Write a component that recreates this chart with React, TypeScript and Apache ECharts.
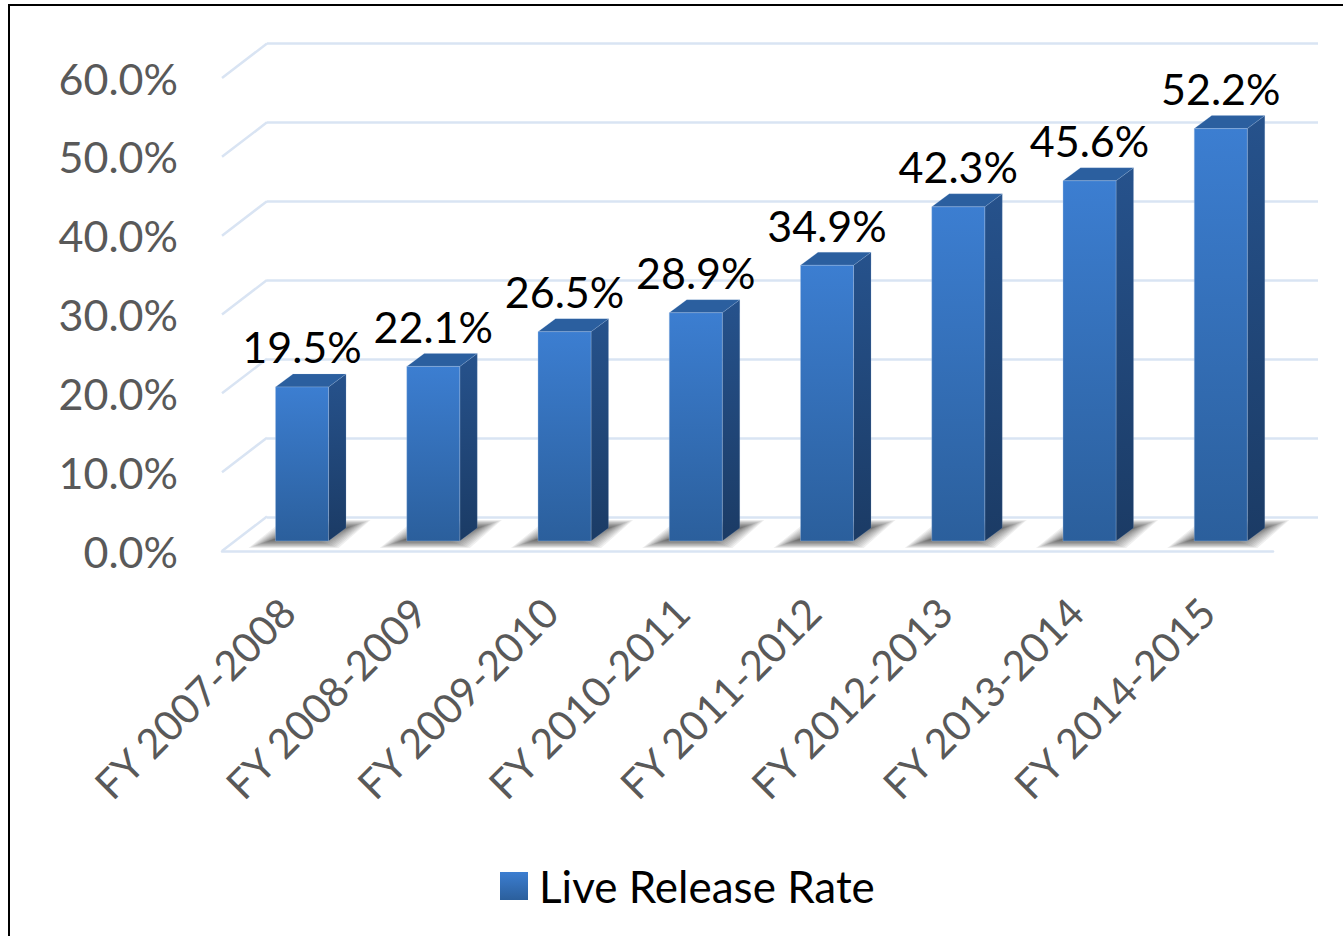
import React, { useEffect, useRef } from "react";
import * as echarts from "echarts";

const categories = ["FY 2007-2008","FY 2008-2009","FY 2009-2010","FY 2010-2011","FY 2011-2012","FY 2012-2013","FY 2013-2014","FY 2014-2015"];
const rates = [19.5,22.1,26.5,28.9,34.9,42.3,45.6,52.2];
const wallTicks = [0,10,20,30,40,50,60];
const seriesName = "Live Release Rate";

const FONT = "Lato";
const GRIDLINE = "#D9E4F3";
const DX = 17.5, DY = -13;

const vgrad = (a: string, b: string) => new echarts.graphic.LinearGradient(0, 0, 0, 1, [{ offset: 0, color: a }, { offset: 1, color: b }]);

function renderBar(params: any, api: any) {
  const i = api.value(0), v = api.value(1);
  const top = api.coord([i, v]);
  const base = api.coord([i, 0]);
  const w = api.size([1, 0])[0] * 0.404;
  const l = top[0] - w / 2, r = top[0] + w / 2, t = top[1], b = base[1];
  const edge = "rgba(170,195,230,0.35)";
  const children: any[] = [];
  // soft floor shadow: nested translucent layers
  for (let k = 0; k < 14; k++) {
    const ix = k * 1.9, iy = k * 0.65;
    children.push({
      type: "polygon", silent: true,
      shape: { points: [
        [l - 27 + ix, b + 7 - iy],
        [r + 10 - ix, b + 7 - iy],
        [r + 42 - ix, b - 21 + iy],
        [l + 8 + ix, b - 21 + iy],
      ] },
      style: { fill: "rgba(30,30,30,0.07)" },
    });
  }
  children.push({
    type: "polygon", shape: { points: [[r, t], [r + DX, t + DY], [r + DX, b + DY], [r, b]] },
    style: { fill: vgrad("#26528C", "#1B3B65"), stroke: edge, lineWidth: 0.5 },
  });
  children.push({
    type: "polygon", shape: { points: [[l, t], [l + DX, t + DY], [r + DX, t + DY], [r, t]] },
    style: { fill: "#2B5F9F", stroke: edge, lineWidth: 0.5 },
  });
  children.push({
    type: "rect", shape: { x: l, y: t, width: w, height: b - t },
    style: { fill: vgrad("#3C7ED1", "#2B5F9C"), stroke: edge, lineWidth: 1 },
  });
  children.push({
    type: "text",
    style: { text: v.toFixed(1) + "%", x: top[0], y: t - 40, align: "center", verticalAlign: "middle", fill: "#000", fontFamily: FONT, fontSize: 43 },
  });
  return { type: "group", children };
}

function renderDiagonal(params: any, api: any) {
  const p = api.coord([0, api.value(1)]);
  const x = params.coordSys.x;
  return {
    type: "line",
    shape: { x1: x, y1: p[1], x2: x + 45, y2: p[1] - 34.5 },
    style: { stroke: GRIDLINE, lineWidth: 2.5, fill: "none" },
  };
}

export default function App() {
  const ref = useRef<HTMLDivElement>(null);
  useEffect(() => {
    const chart = echarts.init(ref.current!, undefined, { renderer: "svg" });
    const hiddenX = (gridIndex: number) => ({ type: "category" as const, gridIndex, data: categories, show: false });
    const hiddenY = (gridIndex: number) => ({ type: "value" as const, gridIndex, min: 0, max: 60, interval: 10, show: false });
    chart.setOption({
      animation: false,
      backgroundColor: "#fff",
      grid: [
        { left: 222, right: 70, top: 78, bottom: 385 },
        { left: 236.4, right: 56.6, top: 67, bottom: 395 },
        { left: 267, right: 25, top: 43, bottom: 419 },
      ],
      xAxis: [
        {
          type: "category", gridIndex: 0, data: categories,
          axisLine: { show: true, lineStyle: { color: GRIDLINE, width: 2.5 } },
          axisTick: { show: false },
          axisLabel: { rotate: 45, interval: 0, margin: 54, color: "#595959", fontFamily: FONT, fontSize: 41 },
        },
        hiddenX(1),
        hiddenX(2),
      ],
      yAxis: [
        {
          type: "value", gridIndex: 0, min: 0, max: 60, interval: 10,
          axisLine: { show: false }, axisTick: { show: false }, splitLine: { show: false },
          axisLabel: { margin: 44, color: "#595959", fontFamily: FONT, fontSize: 43, padding: [3, 0, 0, 0], formatter: (v: number) => v.toFixed(1) + "%" },
        },
        hiddenY(1),
        {
          type: "value", gridIndex: 2, min: 0, max: 60, interval: 10,
          axisLine: { show: false }, axisTick: { show: false }, axisLabel: { show: false },
          splitLine: { show: true, lineStyle: { color: GRIDLINE, width: 2.5 } },
        },
      ],
      legend: {
        show: true, left: 500, top: 864, icon: "rect", itemWidth: 28, itemHeight: 28, itemGap: 0, padding: 0,
        data: [{ name: seriesName }],
        textStyle: { color: "#000", fontFamily: FONT, fontSize: 44, padding: [0, 0, 4, 6] },
      },
      graphic: [
        { type: "line", silent: true, shape: { x1: 9, y1: 5, x2: 9, y2: 936 }, style: { stroke: "#000", lineWidth: 2 } },
        { type: "line", silent: true, shape: { x1: 8, y1: 5, x2: 1343, y2: 5 }, style: { stroke: "#000", lineWidth: 2 } },
      ],
      series: [
        {
          type: "custom", name: "wall", xAxisIndex: 0, yAxisIndex: 0, z: 1, silent: true, clip: false,
          renderItem: renderDiagonal, encode: { x: 0, y: 1 },
          data: wallTicks.map((t) => [0, t]),
        },
        {
          type: "custom", name: seriesName, xAxisIndex: 1, yAxisIndex: 1, z: 3, clip: false,
          renderItem: renderBar, encode: { x: 0, y: 1 },
          itemStyle: { color: vgrad("#3C7ED1", "#2B5F9C") },
          data: rates.map((v, i) => [i, v]),
        },
      ],
    });
    return () => chart.dispose();
  }, []);
  return <div ref={ref} style={{ position: "fixed", left: 0, top: 0, width: 1343, height: 936 }} />;
}
